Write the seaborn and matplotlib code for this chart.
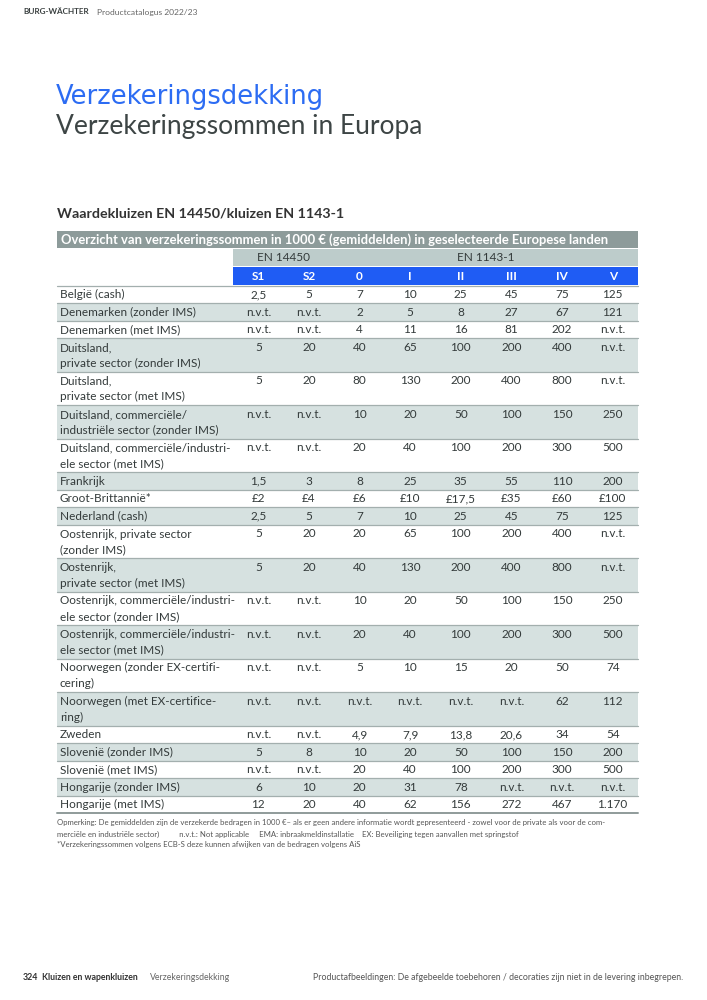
import matplotlib
matplotlib.use("Agg")
import matplotlib.pyplot as plt
from matplotlib.patches import Rectangle
import seaborn as sns

# ---- data ----
countries = [
    "België (cash)",
    "Denemarken (zonder IMS)",
    "Denemarken (met IMS)",
    "Duitsland,\nprivate sector (zonder IMS)",
    "Duitsland,\nprivate sector (met IMS)",
    "Duitsland, commerciële/\nindustriële sector (zonder IMS)",
    "Duitsland, commerciële/industri-\nele sector (met IMS)",
    "Frankrijk",
    "Groot-Brittannië*",
    "Nederland (cash)",
    "Oostenrijk, private sector\n(zonder IMS)",
    "Oostenrijk,\nprivate sector (met IMS)",
    "Oostenrijk, commerciële/industri-\nele sector (zonder IMS)",
    "Oostenrijk, commerciële/industri-\nele sector (met IMS)",
    "Noorwegen (zonder EX-certifi-\ncering)",
    "Noorwegen (met EX-certifice-\nring)",
    "Zweden",
    "Slovenië (zonder IMS)",
    "Slovenië (met IMS)",
    "Hongarije (zonder IMS)",
    "Hongarije (met IMS)",
]
nvt = "n.v.t."
s1 = ["2,5", nvt, nvt, "5", "5", nvt, nvt, "1,5", "£2", "2,5", "5", "5", nvt, nvt, nvt, nvt, nvt, "5", nvt, "6", "12"]
s2 = ["5", nvt, nvt, "20", "20", nvt, nvt, "3", "£4", "5", "20", "20", nvt, nvt, nvt, nvt, nvt, "8", nvt, "10", "20"]
c0 = ["7", "2", "4", "40", "80", "10", "20", "8", "£6", "7", "20", "40", "10", "20", "5", nvt, "4,9", "10", "20", "20", "40"]
c1 = ["10", "5", "11", "65", "130", "20", "40", "25", "£10", "10", "65", "130", "20", "40", "10", nvt, "7,9", "20", "40", "31", "62"]
c2 = ["25", "8", "16", "100", "200", "50", "100", "35", "£17,5", "25", "100", "200", "50", "100", "15", nvt, "13,8", "50", "100", "78", "156"]
c3 = ["45", "27", "81", "200", "400", "100", "200", "55", "£35", "45", "200", "400", "100", "200", "20", nvt, "20,6", "100", "200", nvt, "272"]
c4 = ["75", "67", "202", "400", "800", "150", "300", "110", "£60", "75", "400", "800", "150", "300", "50", "62", "34", "150", "300", nvt, "467"]
c5 = ["125", "121", nvt, nvt, nvt, "250", "500", "200", "£100", "125", nvt, nvt, "250", "500", "74", "112", "54", "200", "500", nvt, "1.170"]
value_cols = [s1, s2, c0, c1, c2, c3, c4, c5]
col_labels = ["S1", "S2", "0", "I", "II", "III", "IV", "V"]
groups = ["EN 14450", "EN 1143-1"]
group_sizes = [2, 6]

# ---- style ----
sns.set_theme(style="white")
plt.rcParams["font.family"] = ["Lato", "DejaVu Sans"]

TXT = "#333a3a"
GRAY_BAR = "#8d9b9a"
LIGHT_BAR = "#bdcccb"
SHADE = "#d6e1e0"
LINE = "#a3afae"
BLUE = "#1f5cf4"
TITLE_BLUE = "#2c6cf3"

fig = plt.figure(figsize=(7.07, 10), dpi=100)
ax = fig.add_axes([0, 0, 1, 1])
ax.set_xlim(0, 707)
ax.set_ylim(1000, 0)
ax.axis("off")

# page header
ax.text(23, 12, "BURG-WÄCHTER", fontsize=5.9, fontweight="bold", color="#3a4040", va="center")
ax.text(97, 12, "Productcatalogus 2022/23", fontsize=6.1, color="#666", va="center")

# titles
ax.text(56, 104, "Verzekeringsdekking", fontsize=18.5, color=TITLE_BLUE,
        family="DejaVu Sans", va="baseline")
ax.text(56, 134, "Verzekeringssommen in Europa", fontsize=19, color="#3d4545",
        va="baseline")
ax.text(57, 213, "Waardekluizen EN 14450/kluizen EN 1143-1", fontsize=10.3,
        fontweight="bold", color="#333", va="center")

# table geometry
left, right, split = 57, 638, 233
col_w = (right - split) / len(col_labels)
centers = [split + col_w * (i + 0.5) for i in range(len(col_labels))]
fs = 8.5

# header bars
ax.add_patch(Rectangle((left, 231), right - left, 17, color=GRAY_BAR, lw=0))
ax.text(61, 239.5, "Overzicht van verzekeringssommen in 1000 € (gemiddelden) in geselecteerde Europese landen",
        fontsize=9.4, fontweight="bold", color="white", va="center")
ax.add_patch(Rectangle((split, 249), right - split, 17, color=LIGHT_BAR, lw=0))
ax.add_patch(Rectangle((split, 267), right - split, 18, color=BLUE, lw=0))
start = 0
for g, n in zip(groups, group_sizes):
    gx = (centers[start] + centers[start + n - 1]) / 2
    ax.text(gx, 257.5, g, fontsize=fs, color=TXT, ha="center", va="center")
    start += n
for x, lab in zip(centers, col_labels):
    ax.text(x, 276, lab, fontsize=fs, fontweight="bold", color="white", ha="center", va="center")

# body rows
y = 285.5
ax.plot([left, right], [y, y], color=LINE, lw=0.9)
for i, name in enumerate(countries):
    n_lines = name.count("\n") + 1
    h = 1.5 + 16 * n_lines
    if i % 2 == 1:
        ax.add_patch(Rectangle((left, y), right - left, h, color=SHADE, lw=0))
    ax.text(60, y + h / 2 + 0.5, name, fontsize=fs, color=TXT, va="center", linespacing=1.5)
    for x, col in zip(centers, value_cols):
        ax.text(x, y + 9.2, col[i], fontsize=fs, color=TXT, ha="center", va="center")
    y += h
    last = i == len(countries) - 1
    ax.plot([left, right], [y, y], color="#8f9b9a" if last else LINE, lw=1.4 if last else 0.9)

# notes
note_fs = 5.6
ax.text(57, y + 10,
        "Opmerking: De gemiddelden zijn de verzekerde bedragen in 1000 €– als er geen andere informatie wordt "
        "gepresenteerd - zowel voor de private als voor de com-",
        fontsize=note_fs, color="#555", va="center")
ax.text(57, y + 21,
        "merciële en industriële sector)          n.v.t.: Not applicable     EMA: inbraakmeldinstallatie    "
        "EX: Beveiliging tegen aanvallen met springstof",
        fontsize=note_fs, color="#555", va="center")
ax.text(57, y + 31, "*Verzekeringssommen volgens ECB-S deze kunnen afwijken van de bedragen volgens AiS",
        fontsize=note_fs, color="#555", va="center")

# page footer
ax.text(23, 978, "324", fontsize=6.3, fontweight="bold", color="#333", va="center")
ax.text(42, 978, "Kluizen en wapenkluizen", fontsize=6.3, fontweight="bold", color="#333", va="center")
ax.text(150, 978, "Verzekeringsdekking", fontsize=6.3, color="#666", va="center")
ax.text(683, 978, "Productafbeeldingen: De afgebeelde toebehoren / decoraties zijn niet in de levering inbegrepen.",
        fontsize=6.3, color="#555", ha="right", va="center")

fig.savefig("out.png", dpi=100, facecolor="white")
